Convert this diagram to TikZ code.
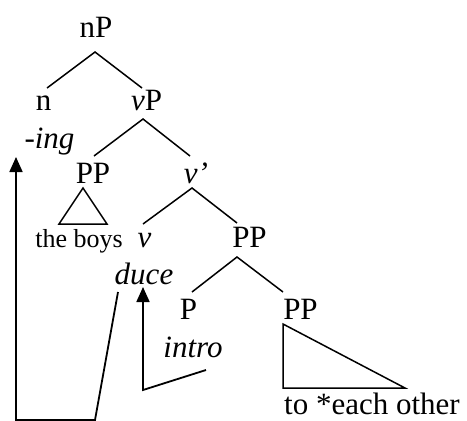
\documentclass[tikz,border=0pt]{standalone}
\usepackage{fontspec}
\setmainfont{Liberation Serif}
\usetikzlibrary{arrows.meta}
\begin{document}
\begin{tikzpicture}[x=1pt,y=-1pt,
  lbl/.style={inner sep=0pt, anchor=base, font=\fontsize{31}{36}\selectfont},
  small/.style={inner sep=0pt, anchor=base, font=\fontsize{26}{31}\selectfont},
  edge/.style={line width=1.5pt},
  mv/.style={line width=1.8pt, -{Triangle[length=15pt,width=13pt]}}]
\useasboundingbox (0,0) rectangle (467,421);
% labels
\node[lbl] (nP) at (96,37) {nP};
\node[lbl] (n) at (43.5,110) {n};
\node[lbl] (vP) at (146.5,110) {\textit{v}P};
\node[lbl] (ing) at (49.5,148) {\textit{-ing}};
\node[lbl] (PP1) at (93,183) {PP};
\node[lbl] (vbar) at (196,183) {\textit{v'}};
\node[small] (boys) at (79,247) {the boys};
\node[lbl] (v) at (144.5,247) {\textit{v}};
\node[lbl] (PP2) at (249.5,247) {PP};
\node[lbl] (duce) at (144,284) {\textit{duce}};
\node[lbl] (P) at (188.5,319) {P};
\node[lbl] (PP3) at (300.5,319) {PP};
\node[lbl] (intro) at (193,357) {\textit{intro}};
\node[lbl] (eo) at (372,414) {to *each other};
% branch points
\coordinate (nPb) at (95,52);
\coordinate (nt) at (47,88);
\coordinate (vPt) at (142,88);
\coordinate (vPb) at (143,119);
\coordinate (PP1t) at (94,156);
\coordinate (vbart) at (190,156);
\coordinate (PP1b) at (83,188);
\coordinate (triL) at (59,224);
\coordinate (triR) at (107,224);
\coordinate (vbarb) at (192,188);
\coordinate (vt) at (143,224);
\coordinate (PP2t) at (237,223);
\coordinate (PP2b) at (237,257);
\coordinate (Pt) at (192,292);
\coordinate (PP3t) at (283,292);
\coordinate (PP3b) at (283,324);
\coordinate (tri2L) at (283,388);
\coordinate (tri2R) at (405,388);
% movement path points
\coordinate (m1a) at (118,292);
\coordinate (m1b) at (95,420);
\coordinate (m1c) at (16,420);
\coordinate (m1tip) at (16,157);
\coordinate (m2a) at (206,370);
\coordinate (m2b) at (143,390);
\coordinate (m2tip) at (143,287);
% tree
\draw[edge] (nt) -- (nPb) -- (vPt);
\draw[edge] (PP1t) -- (vPb) -- (vbart);
\draw[edge] (PP1b) -- (triL) -- (triR) -- cycle;
\draw[edge] (vt) -- (vbarb) -- (PP2t);
\draw[edge] (Pt) -- (PP2b) -- (PP3t);
\draw[edge] (PP3b) -- (tri2L) -- (tri2R) -- cycle;
% movement
\draw[mv] (m1a) -- (m1b) -- (m1c) -- (m1tip);
\draw[mv] (m2a) -- (m2b) -- (m2tip);
\end{tikzpicture}
\end{document}
